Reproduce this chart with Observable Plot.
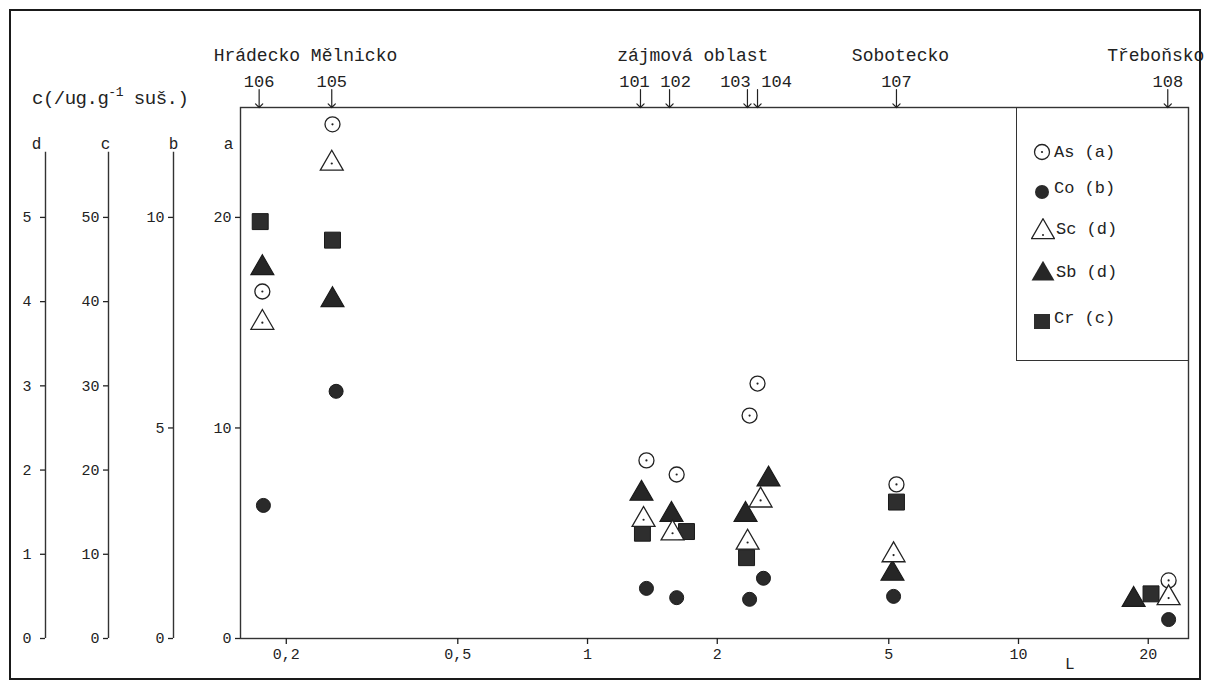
<!DOCTYPE html>
<html><head><meta charset="utf-8">
<script src="https://cdn.jsdelivr.net/npm/d3@7"></script>
<script src="https://cdn.jsdelivr.net/npm/@observablehq/plot@0.6"></script>
<style>
html,body{margin:0;padding:0;background:#fff;overflow:hidden}
#wrap{position:relative;width:1209px;height:688px;font-family:"Liberation Mono",monospace;color:#222}
#wrap svg.plot{position:absolute;left:0;top:0}
#border{position:absolute;left:9px;top:9px;width:1188px;height:667px;border:2px solid #1a1a1a;pointer-events:none}
#unit{position:absolute;left:32px;top:86px;font-size:19px;white-space:pre;letter-spacing:-0.5px}
#unit sup{font-size:13px;position:relative;top:-1px}
#legbox{position:absolute;left:1016px;top:107px;width:171px;height:253px;border-left:1.4px solid #333;border-bottom:1.4px solid #333}
.lrow{position:absolute;left:1031px;font-size:17px;white-space:pre;display:flex;align-items:center}
.lrow svg{margin-right:1px}
</style></head>
<body><div id="wrap"><div id="border"></div><div id="unit"></div><div id="legbox"></div></div>
<script>
// ---- stations (top labels) ----
const stationIds = ["106","105","101","102","103","104","107","108"];
const stationL   = [0.173, 0.255, 1.327, 1.55, 2.35, 2.48, 5.21, 22.2];
const regionNames    = ["Hrádecko Mělnicko", "zájmová oblast", "Sobotecko", "Třeboňsko"];
const regionStations = [["106","105"], ["101","102","103","104"], ["107"], ["108"]];

// ---- x axis ----
const xTicks = [0.2, 0.5, 1, 2, 5, 10, 20];

// ---- y axes (a, b, c, d) ----
const axisNames = ["d", "c", "b", "a"];
const axisTicksD = [0, 1, 2, 3, 4, 5];
const axisTicksC = [0, 10, 20, 30, 40, 50];
const axisTicksB = [0, 5, 10];
const axisTicksA = [0, 10, 20];
const perA = {a: 1, b: 0.5, c: 2.5, d: 0.25}; // value in axis unit per unit of axis a

// ---- elements ----
const elementNames = ["As", "Co", "Sc", "Sb", "Cr"];
const elementAxis  = ["a", "b", "d", "d", "c"];

const asL   = [0.176, 0.256, 1.37, 1.61, 2.377, 2.48, 5.21, 22.3];
const asVal = [16.48, 24.42, 8.46, 7.79, 10.59, 12.11, 7.32, 2.76];

const coL   = [0.177, 0.261, 1.37, 1.61, 2.377, 2.56, 5.13, 22.3];
const coVal = [3.16, 5.87, 1.19, 0.97, 0.93, 1.43, 1.0, 0.45];

const scL   = [0.176, 0.255, 1.349, 1.575, 2.352, 2.521, 5.13, 22.3];
const scVal = [3.75, 5.64, 1.41, 1.25, 1.14, 1.64, 0.99, 0.48];

const sbL   = [0.176, 0.256, 1.334, 1.566, 2.326, 2.63, 5.10, 18.5];
const sbVal = [4.40, 4.02, 1.72, 1.47, 1.47, 1.89, 0.77, 0.46];

const crL   = [0.174, 0.256, 1.341, 1.697, 2.339, 5.21, 20.3];
const crVal = [49.5, 47.3, 12.5, 12.7, 9.6, 16.2, 5.3];

// ---------------------------------------------------------------
const rows = (axis, Ls, vals) => Ls.map((L, i) => ({L, v: vals[i], y: vals[i] / perA[axis]}));
const asRows = rows("a", asL, asVal);
const coRows = rows("b", coL, coVal);
const scRows = rows("d", scL, scVal);
const sbRows = rows("d", sbL, sbVal);
const crRows = rows("c", crL, crVal);

const stations = stationIds.map((id, i) => ({id, L: stationL[i]}));
const regions = regionNames.map((name, i) => {
  const Ls = regionStations[i].map(s => stationL[stationIds.indexOf(s)]);
  return {name, L: Math.exp(d3.mean(Ls, Math.log))};
});

const xDomain = [0.1566, 24.8];
const yDomain = [0, 25.22];
const axisTop = 23.1;
const ink = "#222";
const fmtNum = d => d < 1 && d > 0 ? String(d).replace(".", ",") : String(d);

const axisTicks = {a: axisTicksA, b: axisTicksB, c: axisTicksC, d: axisTicksD};
const axisDx = {a: 0, b: -67, c: -132, d: -195};
const letterDx = {a: -12, b: -67, c: -135, d: -204};
// label nudges so neighbouring labels do not collide
const stationLabelDx = {"101": -6, "102": 6, "103": -12, "104": 19};
const regionDx = {"Hrádecko Mělnicko": 10, "zájmová oblast": -11, "Sobotecko": 4, "Třeboňsko": -12};

const marks = [];
marks.push(Plot.frame({stroke: "#333", strokeWidth: 1.4}));
for (const name of axisNames) {
  const k = perA[name];
  marks.push(Plot.axisY({
    ticks: axisTicks[name].map(t => t / k),
    tickFormat: d => String(Math.round(d * k * 100) / 100),
    tickSize: 5, tickPadding: name === "d" ? 9 : 4, label: null,
    dx: axisDx[name], fontSize: 15, strokeWidth: 1.3
  }));
  if (name !== "a") {
    marks.push(Plot.ruleX([xDomain[0]], {x: d => d, y1: 0, y2: axisTop, dx: axisDx[name], stroke: "#333", strokeWidth: 1.4}));
  }
  marks.push(Plot.text([name], {text: d => d, frameAnchor: "top-left", textAnchor: "middle", dx: letterDx[name], dy: 30, fontSize: 16}));
}
marks.push(Plot.axisX({ticks: xTicks, tickFormat: fmtNum, tickSize: 6, tickPadding: 4, label: null, fontSize: 15, strokeWidth: 1.3}));
marks.push(Plot.text(["L"], {text: d => d, frameAnchor: "bottom-right", dx: -114, dy: 30, fontSize: 16}));

// top labels
for (const r of regions) {
  marks.push(Plot.text([r], {x: "L", text: "name", frameAnchor: "top", dy: -59, dx: regionDx[r.name], fontSize: 18}));
}
for (const s of stations) {
  marks.push(Plot.text([s], {x: "L", text: "id", frameAnchor: "top", dy: -33, dx: stationLabelDx[s.id] || 0, fontSize: 17}));
}
marks.push(Plot.vector(stations, {x: "L", frameAnchor: "top", length: 18, rotate: 180, anchor: "end", stroke: ink, strokeWidth: 1.2}));

// data
marks.push(Plot.dot(crRows, {x: "L", y: "y", symbol: "square", r: 9, fill: "#2e2e2e", stroke: "#1a1a1a", strokeWidth: 1}));
marks.push(Plot.dot(sbRows, {x: "L", y: "y", symbol: "triangle", r: 8.5, fill: "#262626", stroke: "#1a1a1a", strokeWidth: 1.2}));
marks.push(Plot.dot(coRows, {x: "L", y: "y", r: 7, fill: "#2a2a2a", stroke: "#1a1a1a", strokeWidth: 1}));
marks.push(Plot.dot(asRows, {x: "L", y: "y", r: 7.5, fill: "white", stroke: ink, strokeWidth: 1.3}));
marks.push(Plot.dot(asRows, {x: "L", y: "y", r: 1.1, fill: ink, stroke: "none"}));
marks.push(Plot.dot(scRows, {x: "L", y: "y", symbol: "triangle", r: 8.5, fill: "white", stroke: ink, strokeWidth: 1.3}));
marks.push(Plot.dot(scRows, {x: "L", y: "y", r: 1.1, fill: ink, stroke: "none"}));

const chart = Plot.plot({
  width: 1209, height: 688,
  marginLeft: 240, marginRight: 21, marginTop: 107, marginBottom: 50,
  x: {type: "log", domain: xDomain, axis: null},
  y: {domain: yDomain, axis: null},
  style: {fontFamily: "'Liberation Mono', monospace", color: ink, background: "transparent", fontSize: "15px"},
  marks
});
chart.classList.add("plot");
const wrap = document.getElementById("wrap");
wrap.insertBefore(chart, wrap.firstChild);

// unit label
document.getElementById("unit").innerHTML = 'c(/ug.g<sup>-1</sup> suš.)';

// legend
const legendTop = [152, 188, 229, 272, 318];
const tri = d3.symbol(d3.symbolTriangle, Math.PI * 8.5 * 8.5)();
const symbolSvg = {
  As: '<svg width="22" height="22" viewBox="-11 -11 22 22"><circle r="7.5" fill="white" stroke="#222" stroke-width="1.3"/><circle r="1.1" fill="#222"/></svg>',
  Co: '<svg width="22" height="22" viewBox="-11 -11 22 22"><circle cy="4" r="7" fill="#2a2a2a"/></svg>',
  Sc: '<svg width="24" height="22" viewBox="-12 -11 24 22"><path d="' + tri + '" transform="translate(0,3)" fill="white" stroke="#222" stroke-width="1.3"/><circle cy="6" r="1" fill="#222"/></svg>',
  Sb: '<svg width="24" height="22" viewBox="-12 -11 24 22"><path d="' + tri + '" transform="translate(0,2)" fill="#262626"/></svg>',
  Cr: '<svg width="22" height="22" viewBox="-11 -11 22 22"><rect x="-8" y="-4" width="16" height="16" fill="#2e2e2e"/></svg>'
};
elementNames.forEach((el, i) => {
  const row = document.createElement("div");
  row.className = "lrow";
  row.style.top = (legendTop[i] - 11) + "px";
  row.innerHTML = symbolSvg[el] + "<span>" + el + " (" + elementAxis[i] + ")</span>";
  wrap.appendChild(row);
});
</script>
</body></html>
